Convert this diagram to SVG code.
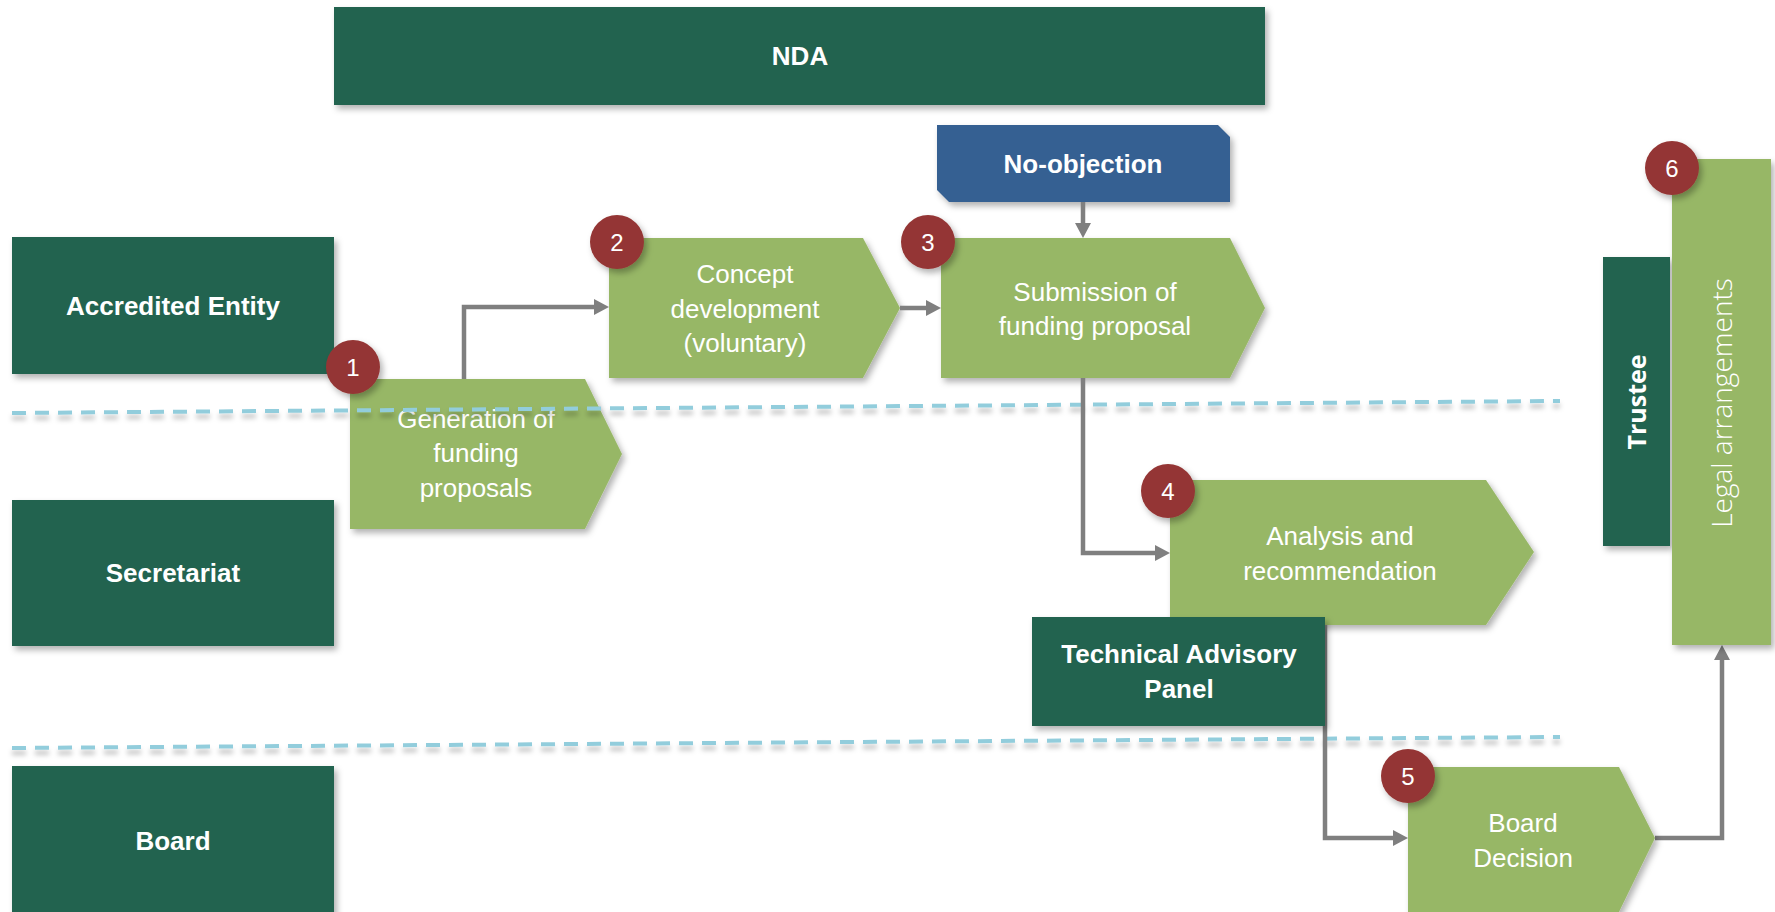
<svg xmlns="http://www.w3.org/2000/svg" width="1775" height="912" viewBox="0 0 1775 912">
<style>
.dk{fill:#246350}
.lg{fill:#97B766}
.bl{fill:#366092}
.sh{filter:url(#ds)}
.bt{font-family:"Liberation Sans",Arial,sans-serif;font-weight:bold;font-size:26px;fill:#fff;text-anchor:middle}
.gt{font-family:"Liberation Sans",Arial,sans-serif;font-size:26px;fill:#fff;text-anchor:middle}
.badge circle{fill:#943634;filter:url(#ds)}
.badge text{font-family:"Liberation Sans",Arial,sans-serif;font-size:24px;fill:#fff;text-anchor:middle}
.conn{fill:none;stroke:#7F7F7F;stroke-width:4.5;marker-end:url(#ah)}
.lane{fill:none;stroke:#92CDDC;stroke-width:4;stroke-dasharray:14 9;filter:url(#ds2)}
</style>
<defs>
<filter id="ds" x="-10%" y="-10%" width="130%" height="130%">
<feDropShadow dx="3" dy="4" stdDeviation="3" flood-color="#000" flood-opacity="0.3"/>
</filter>
<filter id="ds2" x="-5%" y="-200%" width="110%" height="500%">
<feDropShadow dx="0" dy="5" stdDeviation="2.5" flood-color="#000" flood-opacity="0.25"/>
</filter>
<marker id="ah" markerUnits="userSpaceOnUse" markerWidth="16" markerHeight="18" refX="4" refY="8" orient="auto">
<path d="M0,0 L15,8 L0,16 Z" fill="#7F7F7F"/>
</marker>
</defs>
<rect width="1775" height="912" fill="#fff"/>

<g id="nda"><rect class="dk sh" x="334" y="7" width="931" height="98"/><text class="bt" x="800" y="65">NDA</text></g>
<g id="accredited-entity"><rect class="dk sh" x="12" y="237" width="322" height="137"/><text class="bt" x="173" y="315">Accredited Entity</text></g>
<g id="secretariat"><rect class="dk sh" x="12" y="500" width="322" height="146"/><text class="bt" x="173" y="582">Secretariat</text></g>
<g id="board"><rect class="dk sh" x="12" y="766" width="322" height="150"/><text class="bt" x="173" y="850">Board</text></g>

<g id="generation"><path class="lg sh" d="M350,379 H585 L622,454 L585,529 H350 Z"/>
<text class="gt" x="476" y="428">Generation of</text><text class="gt" x="476" y="462">funding</text><text class="gt" x="476" y="497">proposals</text></g>

<g id="concept"><path class="lg sh" d="M609,238 H863 L900,308 L863,378 H609 Z"/>
<text class="gt" x="745" y="283">Concept</text><text class="gt" x="745" y="318">development</text><text class="gt" x="745" y="352">(voluntary)</text></g>

<g id="no-objection"><path class="bl sh" d="M937,125 H1218 L1230,137 V202 H949 L937,190 Z"/>
<text class="bt" x="1083" y="173">No-objection</text></g>

<g id="submission"><path class="lg sh" d="M941,238 H1230 L1265,308 L1230,378 H941 Z"/>
<text class="gt" x="1095" y="301">Submission of</text><text class="gt" x="1095" y="335">funding proposal</text></g>

<g id="analysis"><path class="lg sh" d="M1170,480 H1486 L1534,552 L1486,625 H1170 Z"/>
<text class="gt" x="1340" y="545">Analysis and</text><text class="gt" x="1340" y="580">recommendation</text></g>

<g id="lanes">
<line class="lane" x1="12" y1="413" x2="1560" y2="401"/>
<line class="lane" x1="12" y1="748" x2="1560" y2="737"/>
</g>

<g id="connectors">
<path class="conn" d="M464,379 V307 H598"/>
<path class="conn" d="M900,308 H930"/>
<path class="conn" d="M1083,202 V227"/>
<path class="conn" d="M1083,378 V553 H1159"/>
<path class="conn" d="M1325,625 V838 H1397"/>
<path class="conn" d="M1655,838 H1722 V656"/>
</g>

<g id="tap"><rect class="dk sh" x="1032" y="617" width="293" height="109"/>
<text class="bt" x="1179" y="663">Technical Advisory</text><text class="bt" x="1179" y="698">Panel</text></g>

<g id="board-decision"><path class="lg sh" d="M1408,767 H1619 L1655,838 L1617,916 H1408 Z"/>
<text class="gt" x="1523" y="832">Board</text><text class="gt" x="1523" y="867">Decision</text></g>

<g id="trustee"><rect class="dk sh" x="1603" y="257" width="67" height="289"/>
<text x="1646" y="402" transform="rotate(-90 1646 402)" style="font-family:'Open Sans','Liberation Sans',sans-serif;font-weight:bold;font-size:25px;fill:#fff;text-anchor:middle">Trustee</text></g>

<g id="legal"><rect class="lg sh" x="1672" y="159" width="99" height="486"/>
<text x="1732" y="403" transform="rotate(-90 1732 403)" style="font-family:'Open Sans','Liberation Sans',sans-serif;font-weight:300;font-size:28px;fill:#fff;text-anchor:middle">Legal arrangements</text></g>

<g id="badge-1" class="badge"><circle cx="353" cy="367" r="27"/><text x="353" y="376">1</text></g>
<g id="badge-2" class="badge"><circle cx="617" cy="242" r="27"/><text x="617" y="251">2</text></g>
<g id="badge-3" class="badge"><circle cx="928" cy="242" r="27"/><text x="928" y="251">3</text></g>
<g id="badge-4" class="badge"><circle cx="1168" cy="491" r="27"/><text x="1168" y="500">4</text></g>
<g id="badge-5" class="badge"><circle cx="1408" cy="776" r="27"/><text x="1408" y="785">5</text></g>
<g id="badge-6" class="badge"><circle cx="1672" cy="168" r="27"/><text x="1672" y="177">6</text></g>
</svg>
